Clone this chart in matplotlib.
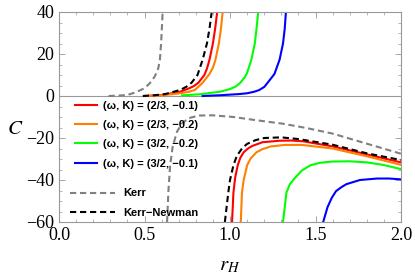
import numpy as np
import matplotlib
matplotlib.use("Agg")
import matplotlib.pyplot as plt
from matplotlib.ticker import MultipleLocator, FormatStrFormatter

plt.rcParams['mathtext.fontset'] = 'stix'

# heat capacity C(r_H)
# each curve: upper branch (C > 0) and lower branch (C < 0)
red_up_r = [0.50, 0.60, 0.70, 0.76, 0.79, 0.815, 0.85, 0.865, 0.88, 0.90, 0.913, 0.925]
red_up_c = [0.0, 0.5, 1.8, 3.6, 4.8, 6.3, 10.0, 13.0, 17.3, 25.0, 32.0, 40.0]
red_lo_r = [1.012, 1.02, 1.03, 1.045, 1.06, 1.08, 1.105, 1.13, 1.19, 1.29, 1.36, 1.43, 1.60, 1.80, 2.00]
red_lo_c = [-60.0, -46.0, -39.0, -33.0, -29.5, -26.8, -25.0, -23.8, -22.0, -21.3, -21.2, -21.6, -24.0, -27.8, -31.6]

orange_up_r = [0.50, 0.60, 0.70, 0.76, 0.795, 0.84, 0.88, 0.90, 0.915, 0.935, 0.947, 0.957]
orange_up_c = [0.0, 0.3, 1.2, 2.0, 2.9, 6.3, 10.5, 13.5, 17.3, 25.0, 32.0, 40.0]
orange_lo_r = [1.063, 1.07, 1.08, 1.10, 1.12, 1.155, 1.19, 1.24, 1.32, 1.42, 1.60, 1.80, 2.00]
orange_lo_c = [-60.0, -46.0, -40.0, -33.0, -29.8, -26.8, -25.3, -24.0, -23.3, -23.3, -25.0, -28.7, -32.8]

green_up_r = [0.72, 0.82, 0.94, 1.00, 1.035, 1.06, 1.085, 1.10, 1.125, 1.145, 1.155, 1.165]
green_up_c = [0.3, 0.8, 2.0, 3.3, 4.6, 6.3, 8.8, 11.0, 17.3, 25.0, 32.0, 40.0]
green_lo_r = [1.31, 1.33, 1.35, 1.38, 1.42, 1.47, 1.526, 1.60, 1.70, 1.80, 1.895, 2.00]
green_lo_c = [-60.0, -46.0, -42.0, -39.0, -35.5, -33.0, -31.8, -31.2, -31.1, -31.6, -32.8, -34.8]

blue_up_r = [0.84, 0.95, 1.05, 1.10, 1.14, 1.17, 1.20, 1.22, 1.26, 1.29, 1.31, 1.32, 1.327]
blue_up_c = [0.0, 0.4, 0.9, 1.3, 2.0, 2.8, 4.3, 6.3, 10.5, 17.3, 25.0, 32.0, 40.0]
blue_lo_r = [1.545, 1.57, 1.595, 1.62, 1.65, 1.68, 1.72, 1.76, 1.86, 1.93, 2.00]
blue_lo_c = [-60.0, -53.0, -48.5, -45.3, -43.5, -42.0, -41.0, -40.0, -39.3, -39.3, -39.7]

kerr_up_r = [0.29, 0.35, 0.40, 0.45, 0.50, 0.53, 0.56, 0.58, 0.59, 0.597, 0.602, 0.606]
kerr_up_c = [0.0, 0.2, 0.5, 1.8, 3.7, 6.0, 9.3, 13.0, 17.3, 25.0, 33.0, 40.0]
kerr_lo_r = [0.632, 0.64, 0.65, 0.665, 0.69, 0.72, 0.76, 0.82, 0.90, 1.02, 1.15, 1.31, 1.45, 1.60, 1.80, 2.00]
kerr_lo_c = [-60.0, -45.0, -33.0, -24.0, -17.0, -13.0, -10.5, -9.3, -9.2, -10.0, -11.5, -13.2, -15.3, -17.9, -22.7, -27.5]

kn_up_r = [0.49, 0.55, 0.62, 0.71, 0.745, 0.775, 0.81, 0.84, 0.865, 0.88, 0.893]
kn_up_c = [0.0, 0.3, 0.9, 2.9, 4.4, 6.3, 10.0, 17.3, 25.0, 32.0, 40.0]
kn_lo_r = [0.97, 0.99, 1.00, 1.02, 1.04, 1.07, 1.10, 1.15, 1.20, 1.30, 1.40, 1.60, 1.80, 2.00]
kn_lo_c = [-60.0, -46.0, -40.0, -33.0, -28.5, -25.0, -22.8, -21.0, -20.0, -19.7, -20.5, -23.2, -27.3, -30.5]

labels = ["(ω, K) = (2/3, −0.1)", "(ω, K) = (2/3, −0.2)",
          "(ω, K) = (3/2, −0.2)", "(ω, K) = (3/2, −0.1)"]

fig = plt.figure(figsize=(4.15, 2.8), dpi=100)
ax = fig.add_axes([59 / 415, 1 - 222 / 280, 342 / 415, 210 / 280])

frame_gray = '#999999'
ax.axhline(0, color=frame_gray, lw=0.8, zorder=1)

solid = [
    ('#ff0000', red_up_r, red_up_c, red_lo_r, red_lo_c),
    ('#ff8000', orange_up_r, orange_up_c, orange_lo_r, orange_lo_c),
    ('#00ff00', green_up_r, green_up_c, green_lo_r, green_lo_c),
    ('#0000ff', blue_up_r, blue_up_c, blue_lo_r, blue_lo_c),
]
handles = []
for (col, ur, uc, lr, lc), lab in zip(solid, labels):
    h, = ax.plot(ur, uc, color=col, lw=1.5, label=lab)
    ax.plot(lr, lc, color=col, lw=1.5)
    handles.append(h)

dash = (0, (3, 1.8))
hk, = ax.plot(kerr_up_r, kerr_up_c, color='#808080', lw=1.5, ls=dash, label='Kerr')
ax.plot(kerr_lo_r, kerr_lo_c, color='#808080', lw=1.5, ls=dash)
hkn, = ax.plot(kn_up_r, kn_up_c, color='black', lw=1.5, ls=dash, label='Kerr\u2212Newman')
ax.plot(kn_lo_r, kn_lo_c, color='black', lw=1.5, ls=dash)

ax.set_xlim(0, 2)
ax.set_ylim(-60, 40)
ax.xaxis.set_major_locator(MultipleLocator(0.5))
ax.xaxis.set_minor_locator(MultipleLocator(0.1))
ax.yaxis.set_major_locator(MultipleLocator(20))
ax.yaxis.set_minor_locator(MultipleLocator(5))
ax.xaxis.set_major_formatter(FormatStrFormatter('%.1f'))
ax.tick_params(which='both', direction='in', top=True, right=True, color=frame_gray)
ax.tick_params(which='major', length=4, width=0.6)
ax.tick_params(which='minor', length=2, width=0.5)
for s in ax.spines.values():
    s.set_color(frame_gray)
    s.set_linewidth(0.8)
for lab in ax.get_xticklabels() + ax.get_yticklabels():
    lab.set_family('Liberation Serif')
    lab.set_fontsize(13)

fig.text(15 / 415, 1 - 128 / 280, r'$C$', fontsize=15, ha='center', va='center')
fig.text(230 / 415, 1 - 265 / 280, r'$r_H$', fontsize=15, ha='center', va='center')

font = {'family': 'Liberation Sans', 'weight': 'bold', 'size': 8}
leg1 = ax.legend(handles=handles, loc='upper left', bbox_to_anchor=(0.047, 0.578),
                 frameon=False, prop=font, handlelength=2.0, handletextpad=0.55,
                 labelspacing=0.84, borderpad=0, borderaxespad=0)
ax.add_artist(leg1)
ax.legend(handles=[hk, hkn], loc='upper left', bbox_to_anchor=(0.032, 0.16),
          frameon=False, prop=font, handlelength=4.05, handletextpad=0.72,
          labelspacing=0.84, borderpad=0, borderaxespad=0)

fig.savefig('out.png', dpi=100)
